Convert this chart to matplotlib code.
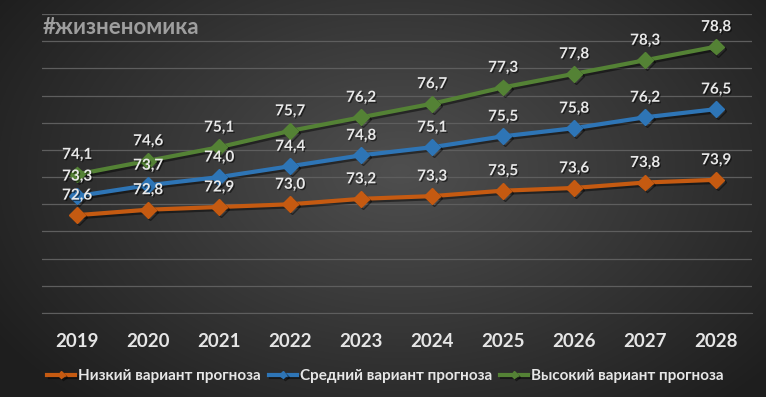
import numpy as np
import matplotlib.pyplot as plt
import matplotlib.patheffects as pe

years = ['2019', '2020', '2021', '2022', '2023', '2024', '2025', '2026', '2027', '2028']
low = [72.6, 72.8, 72.9, 73.0, 73.2, 73.3, 73.5, 73.6, 73.8, 73.9]
mid = [73.3, 73.7, 74.0, 74.4, 74.8, 75.1, 75.5, 75.8, 76.2, 76.5]
high = [74.1, 74.6, 75.1, 75.7, 76.2, 76.7, 77.3, 77.8, 78.3, 78.8]
series_names = ['Низкий вариант прогноза', 'Средний вариант прогноза', 'Высокий вариант прогноза']
colors = ['#c55a11', '#2e75b6', '#548235']

plt.rcParams['font.family'] = ['Lato', 'DejaVu Sans']
plt.rcParams['font.weight'] = 'bold'

W, H = 766, 397
fig = plt.figure(figsize=(W / 100, H / 100), dpi=100)

# radial background gradient
yy, xx = np.mgrid[0:H, 0:W]
r = np.sqrt(((xx - 400) / 500) ** 2 + ((yy - 170) / 330) ** 2)
shade = np.clip(0.31 - 0.2 * r, 0.12, 0.31)
bg = fig.add_axes([0, 0, 1, 1])
bg.imshow(np.dstack([shade] * 3), aspect='auto', extent=[0, 1, 0, 1])
bg.axis('off')

ax = fig.add_axes([41.7 / W, 1 - 313 / H, 710 / W, 299 / H])
ax.set_facecolor('none')
ax.set_xlim(-0.5, 9.5)
ax.set_ylim(69, 80)
ax.set_yticks(np.arange(69, 81, 1))
ax.yaxis.grid(True, color='#5e5e5e', linewidth=0.9)
ax.set_axisbelow(True)
for s in ['left', 'right', 'top']:
    ax.spines[s].set_visible(False)
ax.spines['bottom'].set_color('#5e5e5e')
ax.tick_params(axis='y', left=False, labelleft=False)
ax.tick_params(axis='x', bottom=False, pad=11)

x = np.arange(len(years))
ax.set_xticks(x)
ax.set_xticklabels(years, fontsize=13.5, color='#e6e6e6', fontweight='bold')

shadow = [pe.SimpleLineShadow(offset=(1.5, -1.5), shadow_color='black', alpha=0.45), pe.Normal()]
handles = []
for vals, name, c in zip([low, mid, high], series_names, colors):
    h, = ax.plot(x, vals, color=c, linewidth=3, marker='D', markersize=8,
                 label=name, path_effects=shadow)
    handles.append(h)
    for xi, v in zip(x, vals):
        t = ax.annotate(f'{v:.1f}'.replace('.', ','), (xi, v), xytext=(0, 9),
                        textcoords='offset points', ha='center', va='bottom',
                        fontsize=11, color='#e8e8e8', fontweight='bold')
        t.set_path_effects([pe.SimplePatchShadow(offset=(1, -1), shadow_rgbFace='black', alpha=0.5), pe.Normal()])

leg = fig.legend(handles=handles, loc='center', bbox_to_anchor=(385.5 / W, 1 - 376 / H),
                 ncol=3, frameon=False, fontsize=11, handlelength=1.8, handletextpad=0.2,
                 columnspacing=0.55, markerscale=0.45)
for t in leg.get_texts():
    t.set_color('#e6e6e6')
    t.set_fontweight('bold')

fig.text(43 / W, 1 - 27 / H, '#жизненомика', fontsize=16, color='#9e9e9e',
         fontweight='bold', va='center', ha='left')

fig.savefig('out.png', dpi=100)
